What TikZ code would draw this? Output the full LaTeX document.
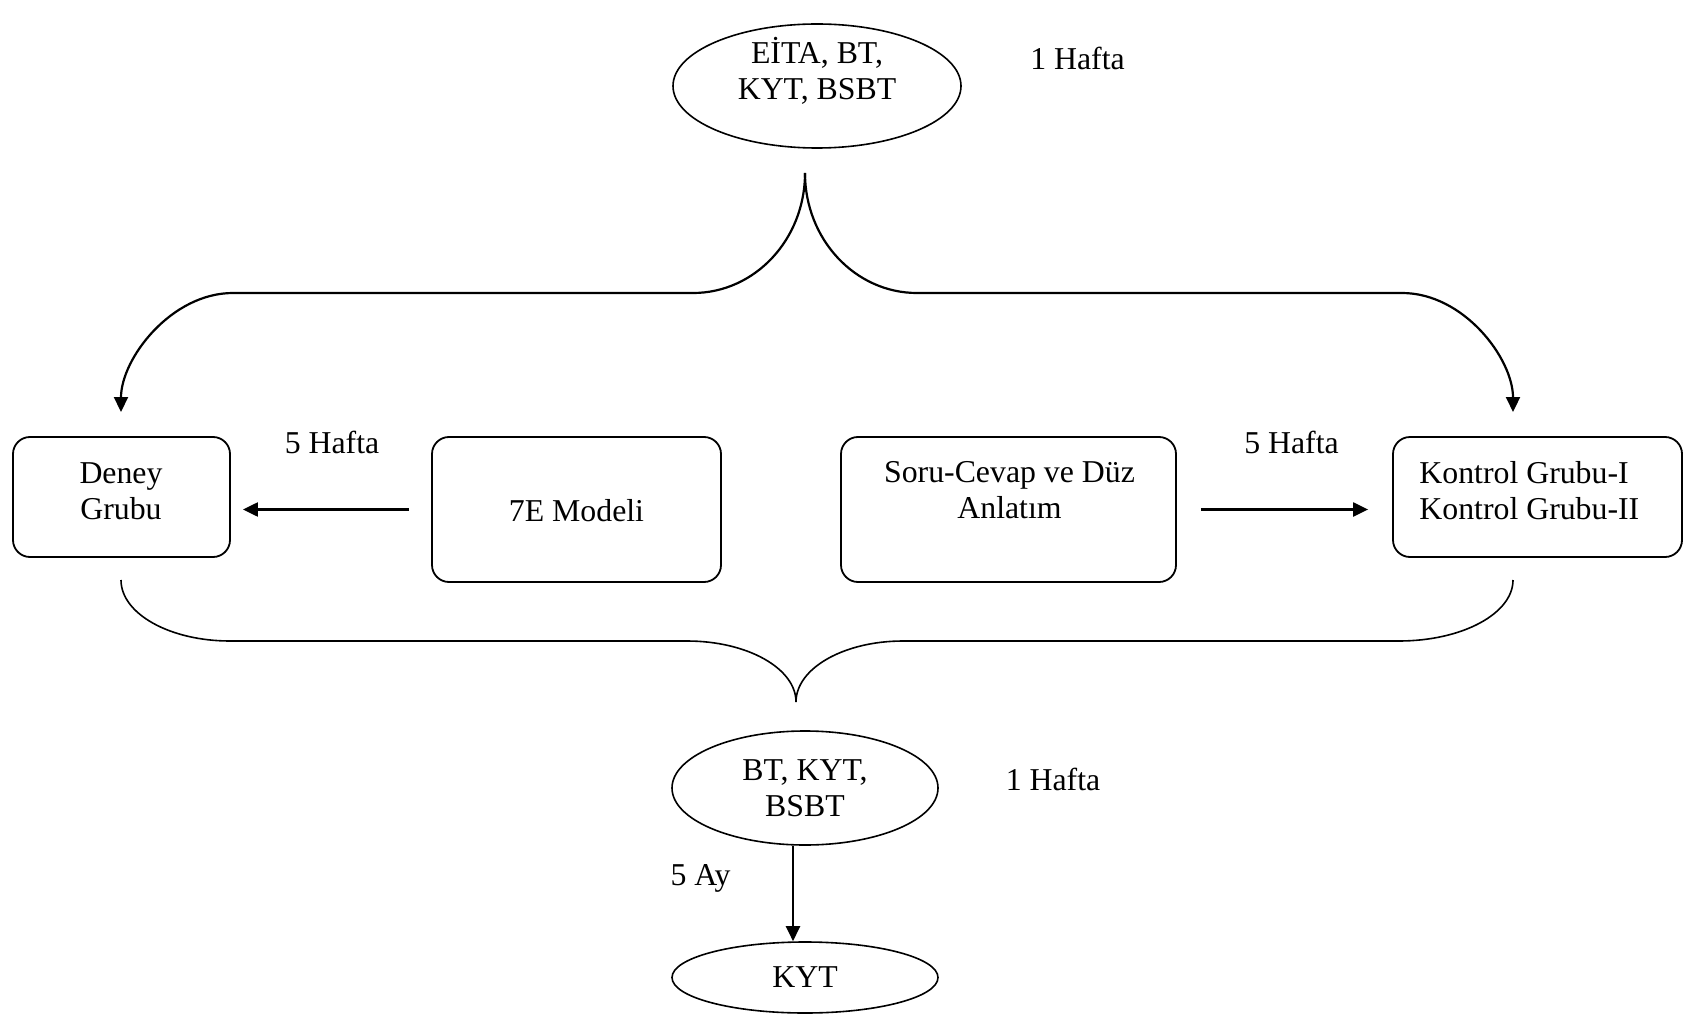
\documentclass[tikz,border=0pt]{standalone}
\usepackage{fontspec}
\setmainfont{Liberation Serif}
\usetikzlibrary{arrows.meta,shapes.geometric}
\begin{document}
\begin{tikzpicture}[x=0.5pt,y=-0.5pt,
  every node/.style={inner sep=0pt, font=\fontsize{15.9pt}{18pt}\selectfont},
  stage/.style={draw, line width=0.9pt, rounded corners=8.5pt},
  oval/.style={draw, ellipse, line width=0.8pt, align=center},
  txt/.style={align=center},
  lbl/.style={anchor=base},
  tipstyle/.style={-{Triangle[length=7.5pt,width=7pt]}},
  brace/.style={line width=1.1pt},
  thinbrace/.style={line width=0.8pt},
  flow/.style={line width=1.1pt, tipstyle}
]
\useasboundingbox (0,0) rectangle (1686,1016);

% pre-tests
\node[oval, minimum width=144pt, minimum height=62pt] (pre) at (817,86) {};
\node[txt] (preText) at (817,70.5) {EİTA, BT,\\KYT, BSBT};
\node[lbl] (preTime) at (1077.5,70) {1 Hafta};

% groups and methods
\node[stage, minimum width=108.5pt, minimum height=60pt] (deney) at (121.5,497) {};
\node[txt] (deneyText) at (121,491) {Deney\\Grubu};
\node[stage, minimum width=144.5pt, minimum height=72.5pt] (model) at (576.5,509.5) {};
\node[lbl] (modelText) at (576.5,521.7) {7E Modeli};
\node[stage, minimum width=167.5pt, minimum height=72.5pt] (soru) at (1008.5,509.5) {};
\node[txt] (soruText) at (1009.5,490.4) {Soru-Cevap ve Düz\\Anlatım};
\node[stage, minimum width=144.5pt, minimum height=60pt] (kontrol) at (1537.5,497) {};
\node[anchor=west, align=left] (kontrolText) at (1419,490.3) {Kontrol Grubu-I\\Kontrol Grubu-II};

\node[lbl] (weeksL) at (332,453) {5 Hafta};
\node[lbl] (weeksR) at (1291.5,453) {5 Hafta};

% post-tests and retention test
\node[oval, minimum width=133pt, minimum height=57pt] (post) at (805,788) {BT, KYT,\\BSBT};
\node[lbl] (postTime) at (1053,790) {1 Hafta};
\node[oval, minimum width=133pt, minimum height=35.5pt] (kyt) at (805,977.5) {KYT};
\node[lbl] (months) at (700.5,885) {5 Ay};

% free ends of the braces
\coordinate (split) at (805,173);
\coordinate (deneyIn) at (121,412);
\coordinate (kontrolIn) at (1513,412);
\coordinate (deneyOut) at (121,580);
\coordinate (kontrolOut) at (1513,580);
\coordinate (merge) at (796,702);

% upper brace splitting into both groups
\draw[brace, tipstyle] (split) .. controls (805,239.3) and (754.9,293) .. (693,293)
  -- (233,293) .. controls (171.1,293) and (121,358.7) .. (deneyIn);
\draw[brace, tipstyle] (split) .. controls (805,239.3) and (855.1,293) .. (917,293)
  -- (1402,293) .. controls (1463.9,293) and (1513,358.7) .. (kontrolIn);

% lower brace joining both groups
\draw[thinbrace] (deneyOut) .. controls (121,613.7) and (169.8,641) .. (230,641)
  -- (687,641) .. controls (747.2,641) and (796,668.3) .. (merge)
  .. controls (796,668.3) and (843.9,641) .. (903,641)
  -- (1399,641) .. controls (1462,641) and (1513,613.7) .. (kontrolOut);

% method arrows
\draw[flow, shorten <=11pt, shorten >=6pt] (model.west) -- (model.west -| deney.east);
\draw[flow, shorten <=12pt, shorten >=12pt] (soru.east) -- (soru.east -| kontrol.west);

% retention interval
\draw[flow] ([xshift=-6pt]post.south) -- ([xshift=-6pt]kyt.north);
\end{tikzpicture}
\end{document}
